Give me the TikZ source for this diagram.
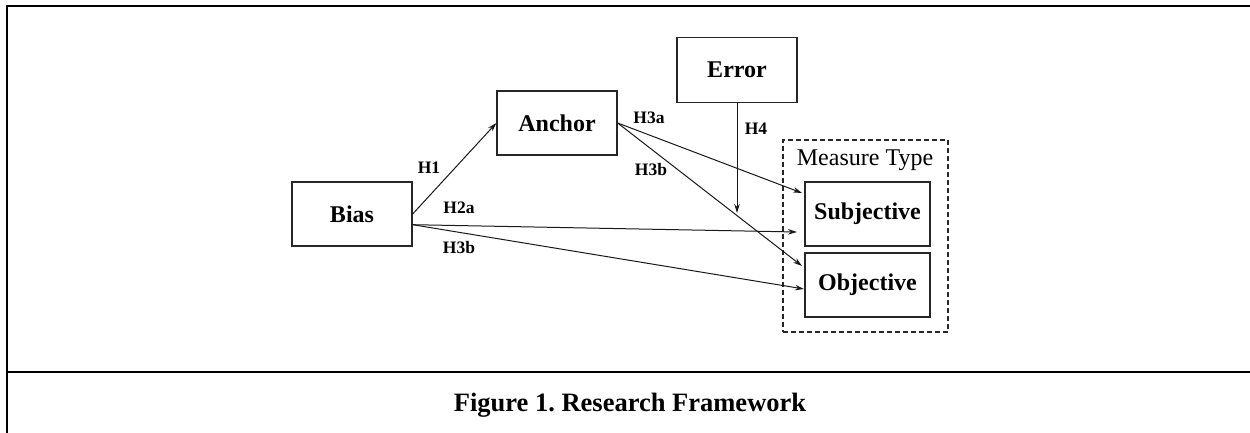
\documentclass[tikz,border=0pt]{standalone}
\usepackage{fontspec}
\setmainfont{Liberation Serif}
\usetikzlibrary{arrows.meta}
\frenchspacing
\tikzset{
  box/.style={draw=black!85, line width=1.3pt, inner sep=0pt, minimum width=120pt, minimum height=64pt, font=\fontsize{24}{28}\selectfont\bfseries},
  hyp/.style={font=\fontsize{17.5}{20}\selectfont\bfseries, inner sep=0pt},
  conn/.style={line width=1pt, draw=black!90, -{Stealth[length=9pt,width=5.5pt]}},
  frame/.style={line width=2pt}
}
\begin{document}
\begin{tikzpicture}[x=1pt,y=-1pt]
\useasboundingbox (0,0) rectangle (1250,433);
% frame
\draw[frame] (1250,6) -- (7,6) -- (7,433);
\draw[frame] (7,372) -- (1250,372);
% nodes
\node[box] (bias) at (352,214) {Bias};
\node[box] (anchor) at (557,123) {Anchor};
\node[box, minimum height=65pt] (error) at (737,70) {Error};
\node[draw=black!85, line width=1.1pt, dash pattern=on 5pt off 3pt, minimum width=165pt, minimum height=192pt, inner sep=0pt] (mtype) at (865.5,236) {};
\node[font=\fontsize{24}{28}\selectfont, inner sep=0pt] (mlabel) at (865,160) {Measure Type};
\node[box, minimum width=125pt] (subj) at (867.5,214) {Subjective};
\node[box, minimum width=125pt] (obj) at (867.5,285) {Objective};
% arrow ends
\coordinate (h2aend) at (797,232);
\coordinate (h3bbend) at (804,289);
\coordinate (h3aend) at (802,193);
\coordinate (h3baend) at (802,266);
\coordinate (h4end) at (737,213);
% connectors
\draw[conn] (bias.east) -- (anchor.west);
\draw[conn] (bias.-10) -- (h2aend);
\draw[conn] (bias.-10) -- (h3bbend);
\draw[conn] (anchor.east) -- (h3aend);
\draw[conn] (anchor.east) -- (h3baend);
\draw[conn] (error.south) -- (h4end);
% labels
\node[hyp] (lh1) at (429,168) {H1};
\node[hyp] (lh2a) at (459,208) {H2a};
\node[hyp] (lh3b1) at (459,248) {H3b};
\node[hyp] (lh3a) at (649,118) {H3a};
\node[hyp] (lh3b2) at (651,170) {H3b};
\node[hyp] (lh4) at (756,129) {H4};
% caption
\node[font=\fontsize{26.5}{30}\selectfont\bfseries, inner sep=0pt] (cap) at (630,405) {Figure 1. Research Framework};
\end{tikzpicture}
\end{document}
